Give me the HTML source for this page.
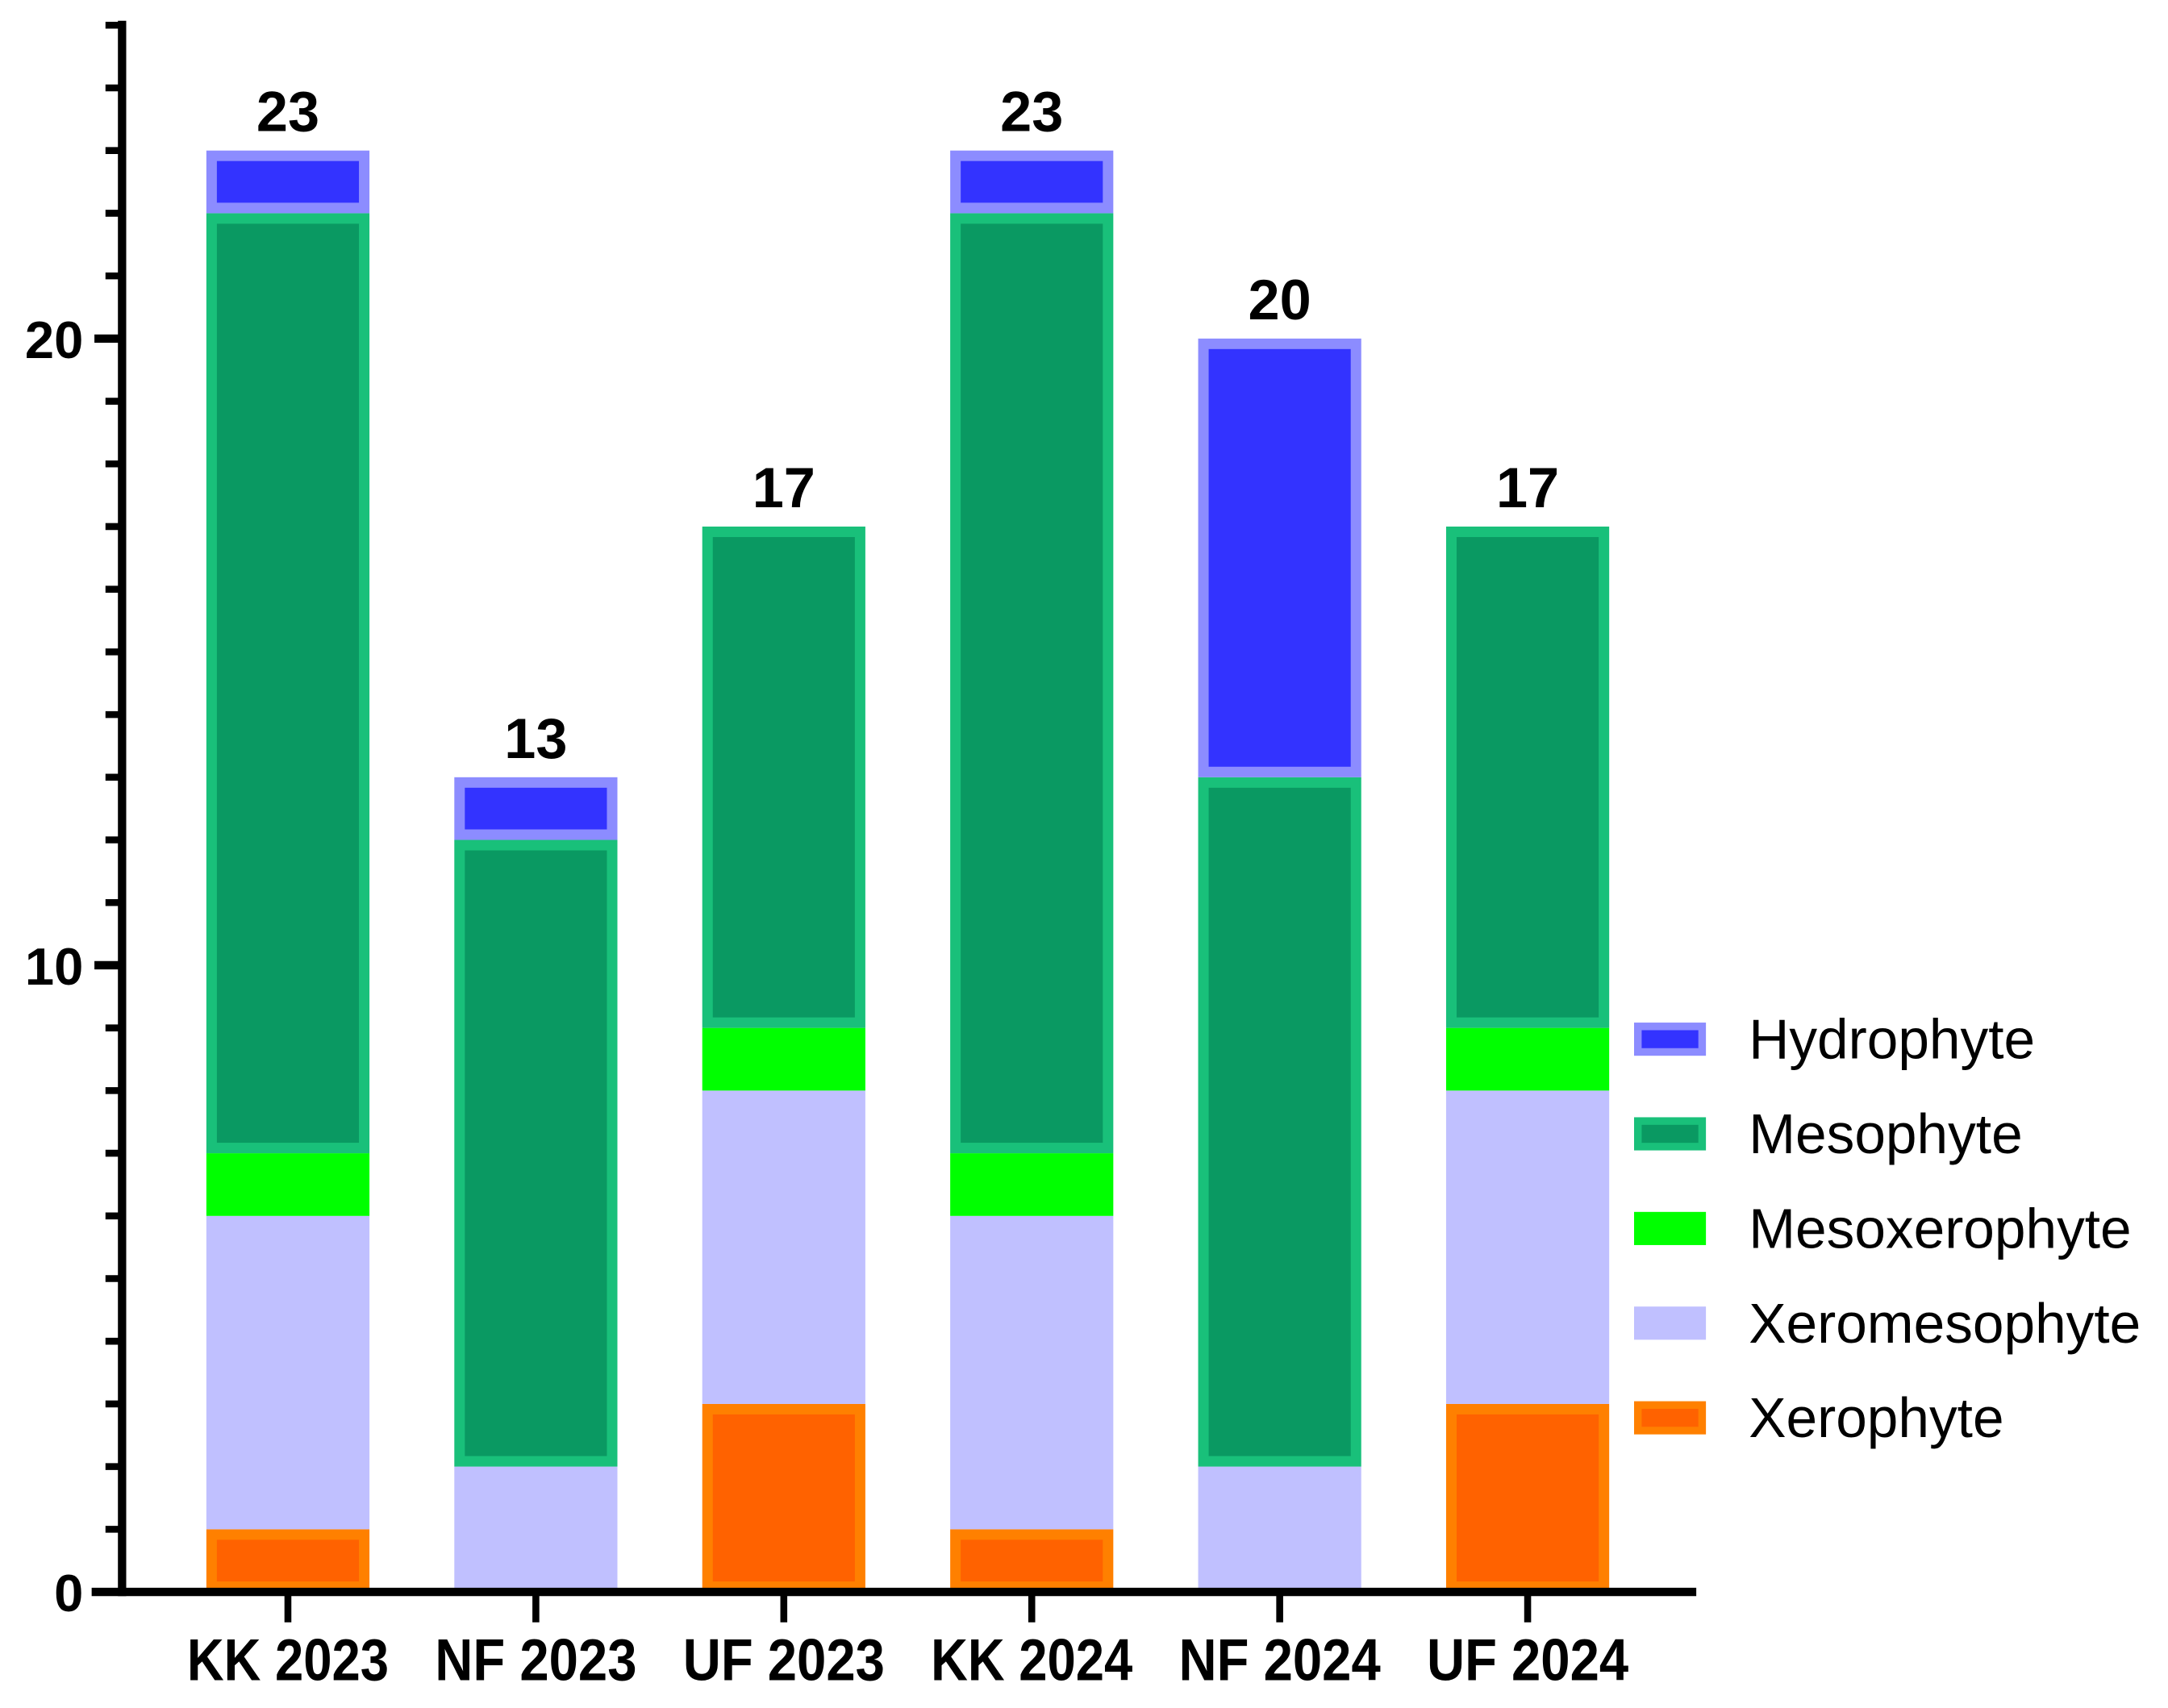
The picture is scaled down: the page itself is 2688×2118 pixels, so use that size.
<!DOCTYPE html>
<html><head><meta charset="utf-8"><style>
html,body{margin:0;padding:0;background:#fff;}
svg{display:block;}
text{font-family:"Liberation Sans",sans-serif;fill:#000;}
</style></head><body>
<svg id="chart" width="2688" height="2118" viewBox="0 0 1568 1236" xmlns="http://www.w3.org/2000/svg">
<g id="bars"></g>
<g id="axes"></g>
<g id="legend"></g>
</svg>
<script>
const categories = ["KK 2023","NF 2023","UF 2023","KK 2024","NF 2024","UF 2024"];
const seriesNames = ["Xerophyte","Xeromesophyte","Mesoxerophyte","Mesophyte","Hydrophyte"];
const xerophyte = [1,0,3,1,0,3];
const xeromesophyte = [5,2,5,5,2,5];
const mesoxerophyte = [1,0,1,1,0,1];
const mesophyte = [15,10,8,15,11,8];
const hydrophyte = [1,1,0,1,7,0];
const totals = [23,13,17,23,20,17];
const yTicks = [0,10,20];
const legendOrder = ["Hydrophyte","Mesophyte","Mesoxerophyte","Xeromesophyte","Xerophyte"];

const NS = "http://www.w3.org/2000/svg";
const fills = {Hydrophyte:"#3333ff",Mesophyte:"#0a9962",Mesoxerophyte:"#00ff00",Xeromesophyte:"#c0c0ff",Xerophyte:"#ff6200"};
const strokes = {Hydrophyte:"#8c8cff",Mesophyte:"#19c07a",Mesoxerophyte:"#00ff00",Xeromesophyte:"#c0c0ff",Xerophyte:"#ff8000"};
const values = [xerophyte,xeromesophyte,mesoxerophyte,mesophyte,hydrophyte];

const y0 = 1152, unit = 45.35;
function yScale(v){ return y0 - v*unit; }
const xStart = 208, xStep = 179.4, barW = 118;
function xScale(i){ return xStart + i*xStep; }

function mk(tag, attrs, parent){
  const e = document.createElementNS(NS, tag);
  for (const k in attrs) e.setAttribute(k, attrs[k]);
  parent.appendChild(e);
  return e;
}
const gb = document.getElementById('bars');
const ga = document.getElementById('axes');
const gl = document.getElementById('legend');
const sw = 7.6;

categories.forEach((c,i)=>{
  let base = 0;
  const cx = xScale(i);
  values.forEach((arr,s)=>{
    const v = arr[i];
    if (v > 0) {
      const name = seriesNames[s];
      const top = yScale(base+v), bot = yScale(base);
      const r = mk('rect',{x:cx-barW/2+sw/2,y:top+sw/2,width:barW-sw,height:bot-top-sw,fill:fills[name],stroke:strokes[name],'stroke-width':sw},gb);
      
      
    }
    base += v;
  });
  const t = mk('text',{x:cx,y:yScale(totals[i])-14,'text-anchor':'middle','font-size':41,'font-weight':'bold'},gb);
  t.textContent = totals[i];
  
  
  const tk = mk('line',{x1:cx,x2:cx,y1:y0,y2:y0+22,stroke:'#000','stroke-width':5},ga);
  
  
  const xl = mk('text',{x:cx,y:1216,'text-anchor':'middle','font-size':43,'font-weight':'bold',textLength:146,lengthAdjust:'spacingAndGlyphs'},ga);
  xl.textContent = c;
  
  
});

const yl = mk('line',{x1:88,x2:88,y1:15,y2:y0+3,stroke:'#000','stroke-width':6},ga);


const xlLine = mk('line',{x1:66,x2:1227,y1:y0,y2:y0,stroke:'#000','stroke-width':6},ga);


for (let v=0; v<=25; v+=1) {
  const major = yTicks.includes(v);
  if (v===0) continue;
  const ln = mk('line',{x1:major?68:76,x2:88,y1:yScale(v),y2:yScale(v),stroke:'#000','stroke-width':major?6:5},ga);
  
  
}
yTicks.forEach(v=>{
  const t = mk('text',{x:60,y:yScale(v)+14,'text-anchor':'end','font-size':38,'font-weight':'bold'},ga);
  t.textContent = v;
  
  
});

const lsw = 5.5;
legendOrder.forEach((n,k)=>{
  const cy = 752 + k*68.5;
  const r = mk('rect',{x:1182+lsw/2,y:cy-12+lsw/2,width:52-lsw,height:24-lsw,fill:fills[n],stroke:strokes[n],'stroke-width':lsw},gl);
  
  
  const t = mk('text',{x:1265,y:cy+14,'font-size':40.5},gl);
  t.textContent = n;
  
  
});
</script>
</body></html>
